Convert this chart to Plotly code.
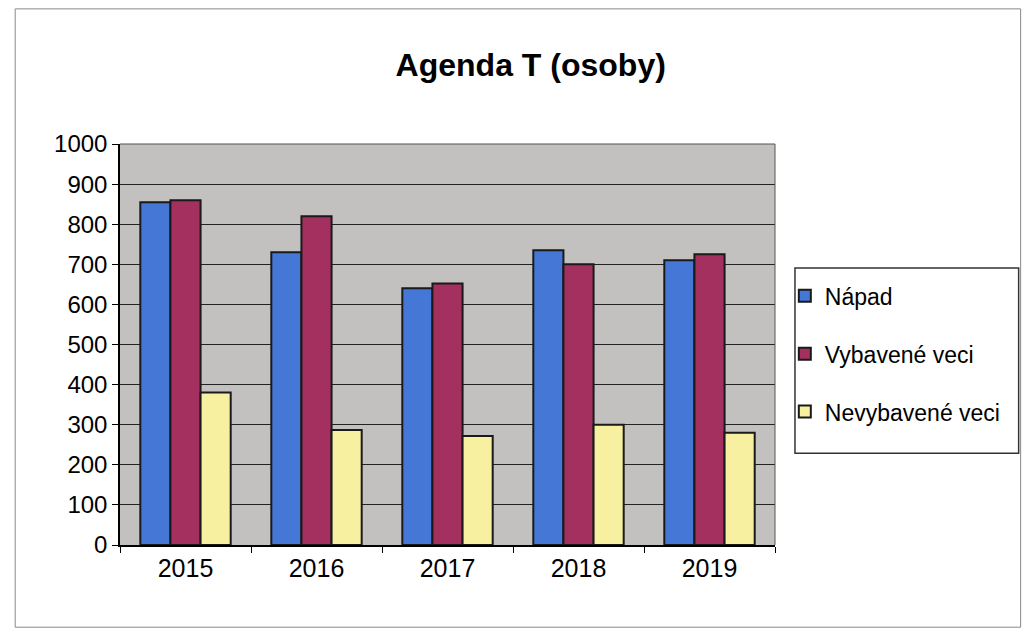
import plotly.graph_objects as go

years = ["2015", "2016", "2017", "2018", "2019"]
napad = [855, 730, 640, 735, 710]
vybavene = [860, 820, 652, 700, 725]
nevybavene = [380, 287, 272, 300, 280]

series_names = ["Nápad", "Vybavené veci", "Nevybavené veci"]
colors = ["#4477d6", "#a3305e", "#f7f0a0"]

fig = go.Figure()
for i, (name, vals, col) in enumerate(zip(series_names, [napad, vybavene, nevybavene], colors)):
    fig.add_trace(go.Bar(
        x=years, y=vals, name=name, legendgroup=f"g{i}",
        marker=dict(color=col, line=dict(color="#1a1a1a", width=2)),
    ))

fig.update_layout(
    width=1015, height=622,
    margin=dict(l=112, r=248, t=136, b=85),
    paper_bgcolor="white",
    plot_bgcolor="#c3c1c0",
    font=dict(family="Liberation Sans, Arial, sans-serif", color="black"),
    title=dict(text="<b>Agenda T (osoby)</b>", x=0.515, xanchor="center", y=0.9084, yanchor="middle",
               font=dict(size=32, color="black")),
    barmode="group", bargap=0.31, bargroupgap=0,
    legend=dict(
        x=1.015, y=0.675, xanchor="left", yanchor="top",
        borderwidth=0, bgcolor="rgba(0,0,0,0)",
        font=dict(size=23), tracegroupgap=25,
    ),
    showlegend=True,
)
fig.update_xaxes(
    showline=True, linecolor="black", linewidth=1.5,
    ticks="outside", tickson="boundaries", ticklen=6, tickcolor="black",
    tickfont=dict(size=25), mirror=False,
)
fig.update_yaxes(
    range=[0, 1000], dtick=100, showgrid=True, gridcolor="#222222", gridwidth=1.2,
    showline=True, linecolor="black", linewidth=1.5,
    ticks="outside", ticklen=6, tickcolor="black",
    tickfont=dict(size=24), zeroline=False,
)
fig.add_shape(type="line", xref="paper", yref="paper",
              x0=1.0, x1=1.0, y0=0, y1=1, line=dict(color="#555555", width=1))
fig.add_shape(type="line", xref="paper", yref="paper",
              x0=0, x1=1, y0=1, y1=1, line=dict(color="#555555", width=1))
# legend frame
fig.add_shape(type="rect", xref="paper", yref="paper", layer="below",
              x0=1.0305, x1=1.372, y0=0.229, y1=0.691, line=dict(color="#333333", width=1.5))
# outer chart frame
fig.add_shape(type="rect", xref="paper", yref="paper",
              x0=-0.160, x1=1.375, y0=-0.205, y1=1.337, line=dict(color="#888888", width=1))

fig.write_html("out.html")
